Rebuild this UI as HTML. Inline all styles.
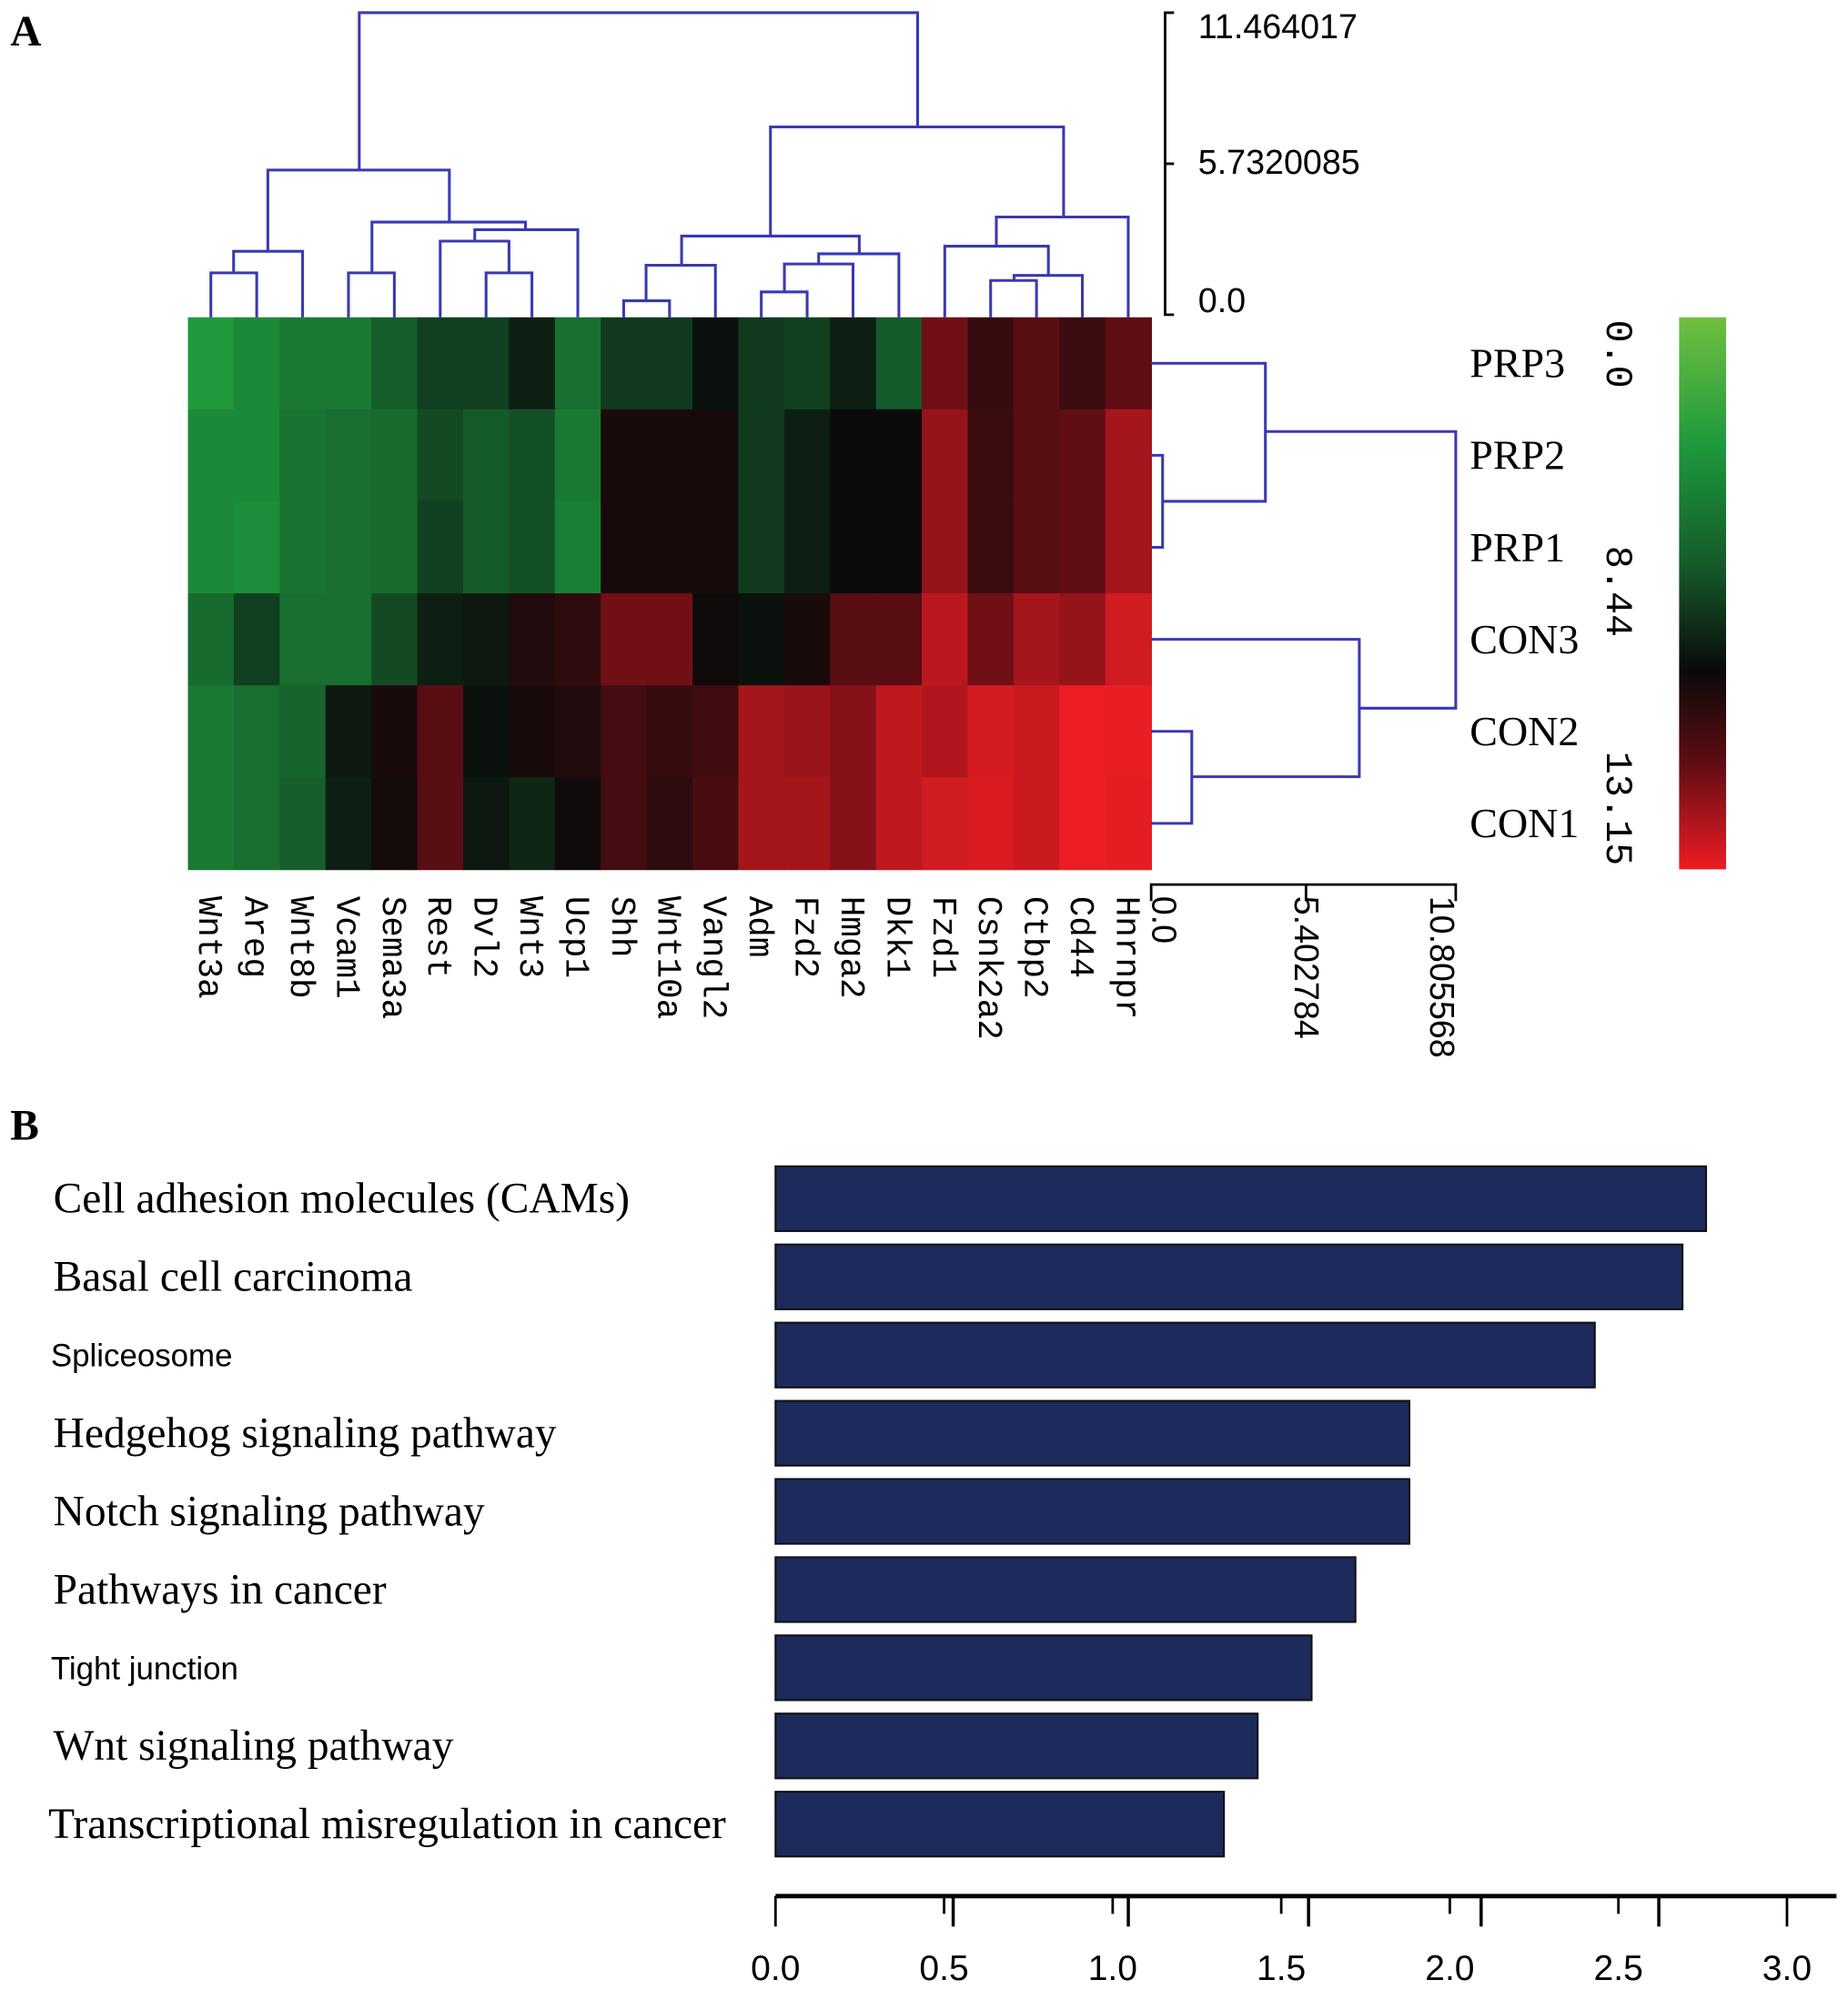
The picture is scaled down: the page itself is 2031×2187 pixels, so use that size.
<!DOCTYPE html>
<html><head><meta charset="utf-8"><style>
html,body{margin:0;padding:0;background:#fff;}
svg{display:block}
.mono{font-family:"Liberation Mono",monospace}
.serif{font-family:"Liberation Serif",serif}
.sans{font-family:"Liberation Sans",sans-serif}
</style></head><body>
<svg id="fig" width="2031" height="2187" viewBox="0 0 1456 1568" xmlns="http://www.w3.org/2000/svg">
<text x="8" y="36" class="serif" font-size="34" font-weight="bold">A</text>
<text x="8" y="898" class="serif" font-size="34" font-weight="bold">B</text>
<g id="heat"></g>
<g id="dendro" stroke="#3a3ab0" stroke-width="2.2" fill="none"></g>
<g id="axes" stroke="#000" stroke-width="2" fill="none"></g>
<g id="labels"></g>
<defs><linearGradient id="cb" x1="0" y1="0" x2="0" y2="1">
<stop offset="0" stop-color="#70bf40"/><stop offset="0.23" stop-color="#1e9a3c"/><stop offset="0.45" stop-color="#155a2a"/><stop offset="0.64" stop-color="#0a0a0a"/><stop offset="0.8" stop-color="#5a0c12"/><stop offset="1" stop-color="#ee1c24"/></linearGradient></defs>
<rect x="1323" y="250" width="37" height="435" fill="url(#cb)"/>
<text transform="translate(1266,252) rotate(90)" class="mono" font-size="30">0.0</text>
<text transform="translate(1266,430) rotate(90)" class="mono" font-size="30">8.44</text>
<text transform="translate(1266,592) rotate(90)" class="mono" font-size="30">13.15</text>
<g id="bars"></g>
</svg>
<script>
const genes=["Wnt3a","Areg","Wnt8b","Vcam1","Sema3a","Rest","Dvl2","Wnt3","Ucp1","Shh","Wnt10a","Vangl2","Adm","Fzd2","Hmga2","Dkk1","Fzd1","Csnk2a2","Ctbp2","Cd44","Hnrnpr"];
const samples=["PRP3","PRP2","PRP1","CON3","CON2","CON1"];
const rowPRP3=[3,3.8,4.5,4.5,5.8,6.8,6.8,7.8,5,7,7,8.2,7,6.8,7.8,6,10.8,9.5,10.3,9.6,10.5];
const rowPRP2=[3.8,3.8,4.8,5,5.2,6.5,6,6.3,4.5,8.8,8.8,8.8,7,7.8,8.5,8.5,11.5,9.6,10.3,10.5,11.8];
const rowPRP1=[3.8,3.6,4.8,5,5.2,6.8,6,6.3,4.3,8.8,8.8,8.8,7,7.8,8.5,8.5,11.5,9.6,10.3,10.5,11.8];
const rowCON3=[5.2,6.8,5,5,6.5,7.8,8,9,9.3,10.8,10.8,8.6,8.2,8.8,10.3,10.3,12.2,10.8,11.8,11.5,12.6];
const rowCON2=[4.5,5,5.5,8,8.8,10.3,8.2,8.8,9,9.8,9.5,9.7,11.8,11.6,11.2,12.3,12,12.7,12.5,13.2,13.1];
const rowCON1=[4.5,5,5.8,7.8,8.7,10.3,8,7.6,8.6,9.8,9.3,9.9,11.8,11.8,11.2,12.3,12.6,12.8,12.5,13.2,13];
const matrix=[rowPRP3,rowPRP2,rowPRP1,rowCON3,rowCON2,rowCON1];
const pathways=["Cell adhesion molecules (CAMs)","Basal cell carcinoma","Spliceosome","Hedgehog signaling pathway","Notch signaling pathway","Pathways in cancer","Tight junction","Wnt signaling pathway","Transcriptional misregulation in cancer"];
const scores=[2.76,2.69,2.43,1.88,1.88,1.72,1.59,1.43,1.33];
const xTicks=["0.0","0.5","1.0","1.5","2.0","2.5","3.0"];
const NS="http://www.w3.org/2000/svg";
function mk(t,a,p){const e=document.createElementNS(NS,t);for(const k in a)e.setAttribute(k,a[k]);p.appendChild(e);return e;}
const stops=[[0,[112,191,64]],[3,[30,154,60]],[6,[21,90,42]],[8.44,[10,10,10]],[10.5,[96,14,20]],[13.15,[236,30,36]]];
function col(v){for(let i=0;i<stops.length-1;i++){const [a,ca]=stops[i],[b,cb]=stops[i+1];if(v<=b||i==stops.length-2){let t=Math.max(0,Math.min(1,(v-a)/(b-a)));return "rgb("+ca.map((c,j)=>Math.round(c+(cb[j]-c)*t)).join(",")+")";}}}
const hx0=148,hx1=907,hy0=250,hy1=685;
const cw=(hx1-hx0)/genes.length,rh=(hy1-hy0)/samples.length;
const cx=i=>hx0+cw*(i+0.5), ry=i=>hy0+rh*(i+0.5);
const heat=document.getElementById('heat');
matrix.forEach((row,r)=>row.forEach((v,c)=>{
 const e=mk('rect',{x:hx0+c*cw,y:hy0+r*rh,width:cw+0.6,height:rh+0.6,fill:col(v)},heat);
 
 
}));
const lab=document.getElementById('labels');
genes.forEach((g,i)=>{const t=mk('text',{transform:`translate(${cx(i)-9},706) rotate(90)`,class:'mono','font-size':27},lab);t.textContent=g;
 
 });
samples.forEach((s,i)=>{const t=mk('text',{x:1158,y:ry(i)+11,class:'serif','font-size':33},lab);t.textContent=s;
 
 });
const d=document.getElementById('dendro');
function U(x1,x2,yl,yr,h){mk('path',{d:`M${x1},${yl}V${h}H${x2}V${yr}`},d);}
function R(y1,y2,xl,xr,w){mk('path',{d:`M${xl},${y1}H${w}V${y2}H${xr}`},d);}
const L=cx,B=hy0;
U(L(0),L(1),B,B,215);U(184,L(2),215,B,198);
U(L(3),L(4),B,B,215);U(L(6),L(7),B,B,215);U(L(5),401,B,215,190);U(374,L(8),190,B,181);U(293,414,215,181,175);U(211,354,198,175,134);
U(L(9),L(10),B,B,237);U(509,L(11),237,B,209);U(L(12),L(13),B,B,230);U(618,L(14),230,B,208);U(645,L(15),208,B,200);U(537,677,209,200,186);
U(L(17),L(18),B,B,221);U(799,L(19),221,B,217);U(L(16),826,B,217,194);U(785,L(20),194,B,171);U(607,838,186,171,100);
U(283,723,134,100,10);
const X=hx1;
R(ry(1),ry(2),X,X,916);R(ry(0),395,X,916,997);R(ry(4),ry(5),X,X,939);R(ry(3),612,X,939,1071);R(340,558,997,1071,1147);
const ax=document.getElementById('axes');
mk('path',{d:'M925,10H918V248H925M918,129H925'},ax);
mk('path',{d:'M907,710V697H1147V710M1029,697V710'},ax);
[["11.464017",30],["5.7320085",137],["0.0",246]].forEach(([t,y])=>{const e=mk('text',{x:944,y:y,class:'sans','font-size':27,fill:'#000',stroke:'none'},lab);e.textContent=t;
 
 });
[["0.0",908],["5.402784",1020],["10.805568",1127]].forEach(([t,x])=>{const e=mk('text',{transform:`translate(${x},706) rotate(90)`,class:'sans','font-size':27},lab);e.textContent=t;
 
 });
const bg=document.getElementById('bars');
const bx0=611,unit=(1408-611)/3,by0=919,step=61.6,bh=51;
const xs=v=>bx0+v*unit;
scores.forEach((v,i)=>{const y=by0+i*step;
 const r=mk('rect',{x:bx0,y:y,width:xs(v)-bx0,height:bh,fill:'#1c2b5c',stroke:'#111','stroke-width':1.5},bg);
 
 
 const sans=(pathways[i]==="Spliceosome"||pathways[i]==="Tight junction");
 const t=mk('text',{x:i==8?38:(sans?40:42),y:y+bh/2+(sans?9:11),class:sans?'sans':'serif','font-size':sans?25:34},bg);t.textContent=pathways[i];
 
 
});
const axl=mk('path',{d:`M${bx0},1494H1447`,stroke:'#000','stroke-width':3.5},bg);


xTicks.forEach((t,i)=>{const x=xs(parseFloat(t));
 const tk=mk('path',{d:`M${x},1494V${i==0||i==6?1518:1508}`,stroke:'#000','stroke-width':2},bg);
 
 
 const e=mk('text',{x:x,y:1560,'text-anchor':'middle',class:'sans','font-size':28},bg);e.textContent=t;
 
 });
[751,889,1031,1167,1307].forEach(x=>{const tk=mk('path',{d:`M${x},1494V1518`,stroke:'#000','stroke-width':2.5},bg);
 
 });
</script>
</body></html>
